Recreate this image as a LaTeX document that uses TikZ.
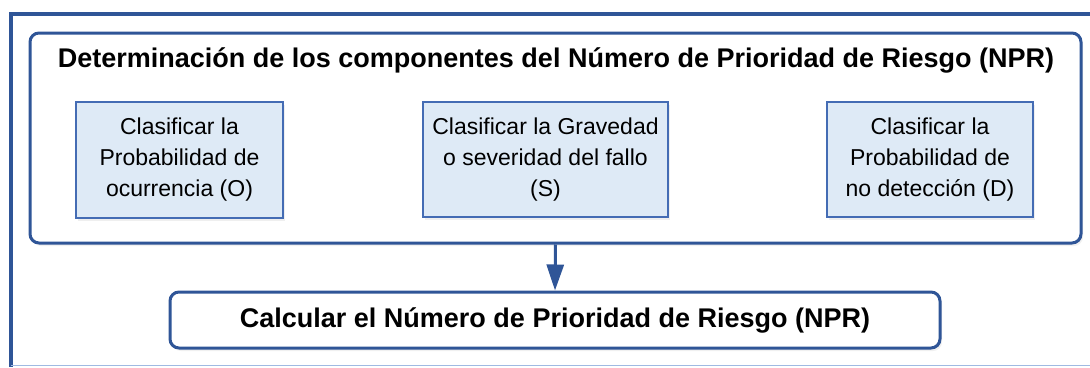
\documentclass[tikz,border=0pt]{standalone}
\usepackage{fontspec}
\setmainfont{Liberation Sans}
\usepackage{tikz}
\usepackage{xcolor}
\usetikzlibrary{arrows.meta,shadows}

\definecolor{marco}{RGB}{47,85,151}
\definecolor{bordeclaro}{RGB}{68,108,180}
\definecolor{relleno}{RGB}{222,234,246}
\definecolor{lineabaja}{RGB}{160,186,226}

\begin{document}
\begin{tikzpicture}[x=1pt, y=-1pt, >={Triangle[length=26pt,width=17pt]},
    grupo/.style={draw=marco, line width=3pt, rounded corners=9pt, inner sep=0pt,
        drop shadow={opacity=0.12, shadow xshift=2pt, shadow yshift=-3pt}, fill=white},
    clasif/.style={draw=bordeclaro, line width=1.4pt, fill=relleno, align=center,
        inner sep=0pt, font=\fontsize{23}{31}\selectfont,
        drop shadow={opacity=0.12, shadow xshift=2pt, shadow yshift=-3pt}},
    titulo/.style={font=\fontsize{27}{32}\selectfont\bfseries}]

        \useasboundingbox (0,0) rectangle (1090,367);

        % marco exterior
        \draw[marco, line width=4pt] (10.5,367) -- (10.5,14) -- (1090,14);
        \draw[lineabaja, line width=1.5pt] (10.5,365.5) -- (1090,365.5);

        \node[grupo, minimum width=1051pt, minimum height=210pt] at (555.5,138) (grupo) {};
        \node[titulo] at (556,60) (tituloNPR) {Determinación de los componentes del Número de Prioridad de Riesgo (NPR)};

        \node[clasif, minimum width=207pt, minimum height=116pt] at (179.5,160) (ocurrencia) {Clasificar la \\ Probabilidad de \\ ocurrencia (O)};
        \node[clasif, minimum width=245pt, minimum height=115pt] at (545.5,159.5) (gravedad) {Clasificar la Gravedad \\ o severidad del fallo \\ (S)};
        \node[clasif, minimum width=206pt, minimum height=115pt] at (930,159.5) (deteccion) {Clasificar la \\ Probabilidad de \\ no detección (D)};

        \node[grupo, minimum width=770pt, minimum height=56pt, titulo] at (555,320) (calcular) {Calcular el Número de Prioridad de Riesgo (NPR)};

        \draw[->, marco, line width=3pt] (grupo.south) -- (calcular.north);

    \end{tikzpicture}
\end{document}
